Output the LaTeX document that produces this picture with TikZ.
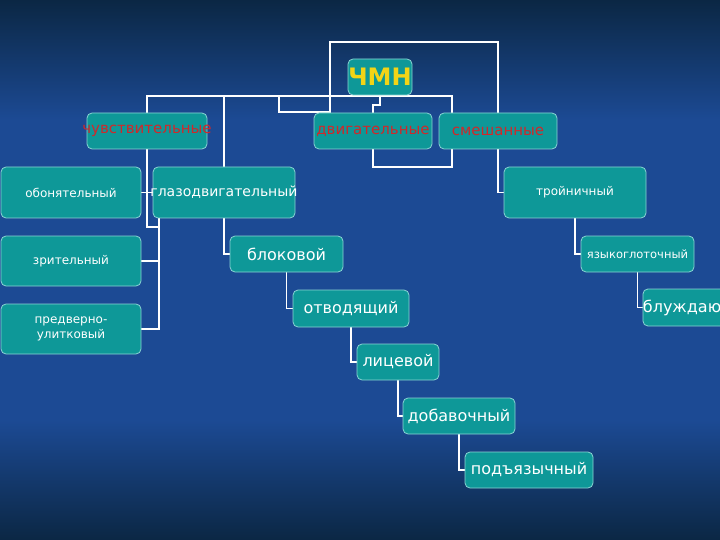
\documentclass[tikz,border=0pt]{standalone}
\usepackage{fontspec}
\setmainfont{DejaVu Sans}
\usetikzlibrary{backgrounds}

\definecolor{fondo}{HTML}{0B2744}
\definecolor{azul}{HTML}{1C4A94}
\definecolor{turquesa}{HTML}{0E9898}
\definecolor{borde}{HTML}{8AD4D4}
\definecolor{rojo}{HTML}{D0282A}
\definecolor{amarillo}{HTML}{F2D416}

\begin{document}
\begin{tikzpicture}[x=1pt, y=-1pt,
  caja/.style={rectangle, rounded corners=5pt, draw=borde, fill=turquesa, line width=0.8pt, inner sep=0pt, text=white, font=\fontsize{12}{15}\selectfont},
  grande/.style={font=\fontsize{16}{18}\selectfont},
  grupo/.style={text=rojo, font=\fontsize{15}{17}\selectfont},
  linea/.style={draw=white, line width=1.8pt}]

\useasboundingbox (0,0) rectangle (720,540);
\clip (0,0) rectangle (720,540);

% Nodo raiz
\node[caja, minimum width=64, minimum height=36, text=amarillo, font=\fontsize{24}{26}\selectfont\bfseries] (chmn) at (380,77) {ЧМН};

% Grupos
\node[caja, grupo, minimum width=120, minimum height=36] (sens) at (147,131) {\makebox[0pt]{чувствительные}};
\node[caja, grupo, minimum width=118, minimum height=36] (motor) at (373,131) {\makebox[0pt]{двигательные}};
\node[caja, grupo, minimum width=118, minimum height=36] (mixed) at (498,131) {смешанные};

% Nervios sensitivos
\node[caja, minimum width=140, minimum height=51] (olf) at (71,192.5) {обонятельный};
\node[caja, minimum width=140, minimum height=50] (vis) at (71,261) {зрительный};
\node[caja, minimum width=140, minimum height=50, align=center] (vest) at (71,329) {предверно-\\улитковый};

% Nervios motores
\node[caja, minimum width=142, minimum height=51, font=\fontsize{14}{16}\selectfont] (oculo) at (224,192.5) {\makebox[0pt]{глазодвигательный}};
\node[caja, grande, minimum width=113, minimum height=36] (troch) at (286.5,254) {блоковой};
\node[caja, grande, minimum width=116, minimum height=37] (abd) at (351,308.5) {отводящий};
\node[caja, grande, minimum width=82, minimum height=36] (fac) at (398,362) {лицевой};
\node[caja, grande, minimum width=112, minimum height=36] (acc) at (459,416) {добавочный};
\node[caja, grande, minimum width=128, minimum height=36] (hyp) at (529,470) {подъязычный};

% Nervios mixtos
\node[caja, minimum width=142, minimum height=51] (trig) at (575,192.5) {тройничный};
\node[caja, minimum width=113, minimum height=36, font=\fontsize{11.5}{14}\selectfont] (glos) at (637.5,254) {языкоглоточный};
\node[caja, grande, minimum width=114, minimum height=37] (vag) at (700,307.5) {блуждающий};

\begin{scope}[on background layer]
% Fondo
\shade[top color=fondo, bottom color=azul] (0,0) rectangle (720,120);
\fill[azul] (0,120) rectangle (720,420);
\shade[top color=azul, bottom color=fondo] (0,420) rectangle (720,540);

% Puntos de las lineas
\coordinate (izq) at (147,96);
\coordinate (der) at (452,96);
\coordinate (paso) at (279,96);
\coordinate (puente) at (330,112);
\coordinate (arriba) at (330,42);
\coordinate (lazo) at (452,167);
\coordinate (codo) at (159,227);

% Lineas
\draw[linea] (sens.north) -- (izq) -- (der) -- (lazo) -| (motor.south);
\draw[linea] (oculo.north) -- (oculo.north |- izq);
\draw[linea] (paso) |- (puente);
\draw[linea] (mixed.north) |- (arriba) -- (arriba |- motor.north);
\draw[linea] (chmn.south) -- ++(0,10) -| (motor.north);
\draw[linea] (mixed.south) |- (trig.west);
\draw[linea] (sens.south) |- (codo) -- (codo |- oculo.south);
\draw[linea] (vest.east) -| (codo);
\draw[linea] (vis.east) -- (vis.east -| codo);
\draw[linea] (olf.east) -- (olf.east -| oculo.west);
\foreach \a/\b in {oculo/troch, troch/abd, abd/fac, fac/acc, acc/hyp, trig/glos, glos/vag}
  \draw[linea] (\a.south) |- (\b.west);
\end{scope}

\end{tikzpicture}
\end{document}
